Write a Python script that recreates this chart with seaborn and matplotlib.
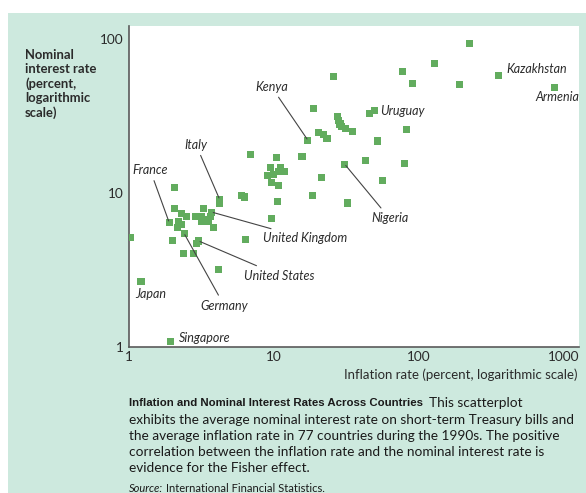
import numpy as np
import pandas as pd
import matplotlib
matplotlib.use("Agg")
import matplotlib.pyplot as plt
from matplotlib.patches import Rectangle
from matplotlib.ticker import FixedLocator, FixedFormatter, NullLocator
import seaborn as sns

# ---------------- data ----------------
inflation = [1.03, 1.21, 1.94, 2.05, 2.05, 1.89, 2.31, 2.49, 2.19, 2.31,
             2.16, 2.40, 1.99, 2.36, 2.80, 2.92, 3.03, 4.14, 4.21, 4.21,
             2.86, 3.18, 3.26, 3.41, 3.63, 3.73, 3.18, 3.53, 3.83, 6.0,
             6.23, 6.38, 6.9, 9.66, 10.8, 10.5, 9.54, 10.4, 9.43, 11.05,
             8.99, 9.89, 10.7, 11.8, 15.6, 17.1, 18.6, 18.5, 20.3, 21.8,
             23.2, 21.2, 25.6, 27.5, 27.9, 28.5, 29.2, 31.1, 35.0, 30.8,
             32.0, 43.0, 45.8, 49.3, 51.5, 56.0, 77.4, 79.5, 82.1, 89.9,
             128, 191, 223, 351, 865]
nominal_rate = [5.1, 2.67, 1.09, 10.9, 7.95, 6.45, 7.3, 7.05, 6.55, 6.2,
                5.95, 5.45, 4.9, 4.05, 4.05, 4.7, 4.87, 3.18, 9.1, 8.55,
                6.98, 6.98, 7.9, 6.75, 6.98, 7.5, 6.55, 6.55, 6.0, 9.65,
                9.4, 5.0, 17.8, 11.6, 11.2, 8.75, 6.8, 17.0, 14.7, 14.7,
                13.0, 13.2, 13.85, 13.85, 17.3, 22.0, 35.1, 9.65, 24.6, 23.8,
                22.5, 12.5, 57.0, 31.1, 29.5, 28.0, 26.8, 26.0, 24.9, 15.3,
                8.6, 16.3, 32.6, 34.1, 21.7, 12.0, 61.6, 15.6, 25.9, 51.3,
                68.7, 50.5, 93.5, 57.8, 48.6]
country = ["", "Japan", "Singapore", "", "", "France", "", "", "", "",
           "", "Germany", "", "", "", "", "United States", "", "Italy", "",
           "", "", "", "", "", "United Kingdom", "", "", "", "",
           "", "", "", "", "", "", "", "", "", "",
           "", "", "", "", "", "Kenya", "", "", "", "",
           "", "", "", "", "", "", "", "", "", "Nigeria",
           "", "", "", "Uruguay", "", "", "", "", "", "",
           "", "", "", "Kazakhstan", "Armenia"]

# label placement: name, text x, text y, horizontal alignment, draw leader line
label_names = ["Kenya", "Italy", "France", "Uruguay", "Kazakhstan", "Armenia",
               "Nigeria", "United Kingdom", "United States", "Japan",
               "Germany", "Singapore"]
label_x = [9.6, 2.9, 1.40, 54.3, 403, 893, 62.6, 8.44, 6.23, 1.10, 4.54, 2.22]
label_y = [48.8, 20.5, 14.06, 34.1, 63.9, 42.0, 6.84, 5.07, 2.91, 2.22, 1.855, 1.148]
label_ha = ["center", "center", "center", "left", "left", "center", "center",
            "left", "left", "left", "center", "left"]
label_line = [True, True, True, False, False, False, True, True, True, False,
              True, False]

x_ticks = [1, 10, 100, 1000]
y_ticks = [1, 10, 100]

df = pd.DataFrame({"inflation": inflation, "nominal": nominal_rate, "country": country})

# ---------------- style ----------------
TEAL = "#cde9de"
GREEN = "#62ac5e"
TXT = "#2b2b2b"

sns.set_theme(style="white")
plt.rcParams["font.family"] = ["Lato", "DejaVu Sans"]

W, H = 586, 493
fig = plt.figure(figsize=(W / 100, H / 100), dpi=100, facecolor="white")
fig.patches.append(Rectangle((8 / W, 0), 1, (H - 13) / H, transform=fig.transFigure,
                             facecolor=TEAL, edgecolor="none", zorder=-10))

ax = fig.add_axes([129 / W, 1 - 347 / H, (579 - 129) / W, (347 - 26) / H])
ax.set_facecolor("white")

sns.scatterplot(data=df, x="inflation", y="nominal", marker="s", s=26,
                color=GREEN, edgecolor="none", linewidth=0, ax=ax, zorder=3)

ax.set_xscale("log")
ax.set_yscale("log")
ax.set_xlim(1, 1268)
ax.set_ylim(1, 121)

ax.xaxis.set_major_locator(FixedLocator(x_ticks))
ax.xaxis.set_major_formatter(FixedFormatter([str(t) for t in x_ticks]))
ax.yaxis.set_major_locator(FixedLocator(y_ticks))
ax.yaxis.set_major_formatter(FixedFormatter([str(t) for t in y_ticks]))
ax.xaxis.set_minor_locator(NullLocator())
ax.yaxis.set_minor_locator(NullLocator())
ax.tick_params(axis="both", which="major", direction="in", length=7, width=1,
               color="#6b6b6b", labelsize=9.8, labelcolor=TXT)
ax.tick_params(axis="x", pad=3)
ax.tick_params(axis="y", pad=4)
ax.set_xlabel("")
ax.set_ylabel("")

for s in ["top", "right"]:
    ax.spines[s].set_visible(False)
for s in ["left", "bottom"]:
    ax.spines[s].set_color("#5a5a5a")
    ax.spines[s].set_linewidth(1.2)

# annotations
for name, tx, ty, ha, line in zip(label_names, label_x, label_y, label_ha, label_line):
    row = df[df["country"] == name].iloc[0]
    if line:
        ax.annotate(name, xy=(row["inflation"], row["nominal"]), xytext=(tx, ty),
                    ha=ha, va="center", fontsize=9, style="italic", color=TXT,
                    arrowprops=dict(arrowstyle="-", color="#444444", lw=0.8,
                                    shrinkA=1, shrinkB=1), zorder=4)
    else:
        ax.text(tx, ty, name, ha=ha, va="center", fontsize=9, style="italic",
                color=TXT, zorder=4)

# axis titles
fig.text(25 / W, 1 - 49 / H, "Nominal\ninterest rate\n(percent,\nlogarithmic\nscale)",
         ha="left", va="top", fontsize=9.4, color=TXT, fontweight="bold",
         linespacing=1.2)
fig.text(578 / W, 1 - 375 / H, "Inflation rate (percent, logarithmic scale)",
         ha="right", va="center", fontsize=9.5, color=TXT)

# caption
cap_x = 129 / W
title = fig.text(cap_x, 1 - 403 / H, "Inflation and Nominal Interest Rates Across Countries",
                 ha="left", va="center", fontsize=8.2, fontweight="bold",
                 family=["Liberation Sans", "DejaVu Sans"], color="#1a1a1a")
fig.canvas.draw()
bb = title.get_window_extent(renderer=fig.canvas.get_renderer())
fig.text(bb.x1 / W + 6 / W, 1 - 403 / H, "This scatterplot", ha="left", va="center",
         fontsize=9.8, color="#1a1a1a")
body = ["exhibits the average nominal interest rate on short-term Treasury bills and",
        "the average inflation rate in 77 countries during the 1990s. The positive",
        "correlation between the inflation rate and the nominal interest rate is",
        "evidence for the Fisher effect."]
for i, line in enumerate(body):
    fig.text(cap_x, 1 - (420 + 16 * i) / H, line, ha="left", va="center",
             fontsize=9.8, color="#1a1a1a")
src = fig.text(cap_x, 1 - 489 / H, "Source:", ha="left", va="center", fontsize=8,
               style="italic", color="#1a1a1a")
fig.canvas.draw()
bb2 = src.get_window_extent(renderer=fig.canvas.get_renderer())
fig.text(bb2.x1 / W + 3 / W, 1 - 489 / H, "International Financial Statistics.",
         ha="left", va="center", fontsize=8, color="#1a1a1a")

fig.savefig("out.png", dpi=100, facecolor="white")
